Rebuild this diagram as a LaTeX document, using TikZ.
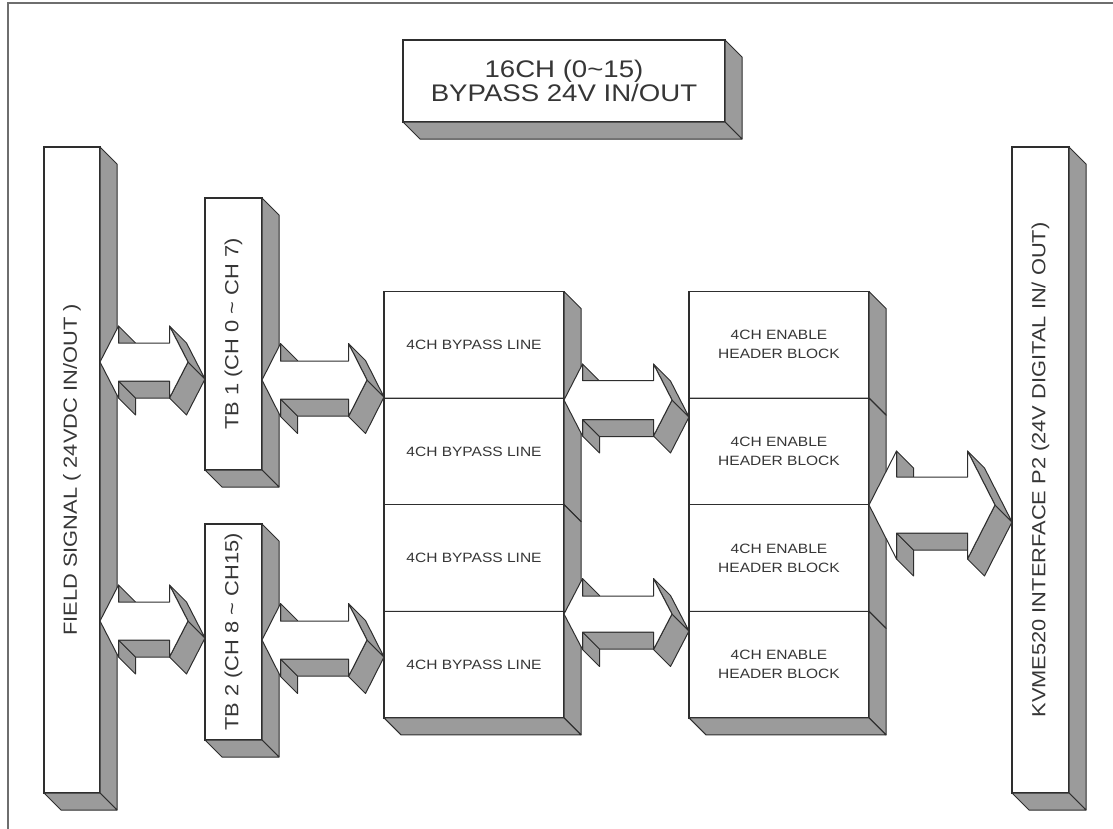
\documentclass[tikz,border=0pt]{standalone}
\usepackage{fontspec}
\setmainfont[FakeStretch=1.15]{Liberation Sans}
\usepackage{tikz}
\usetikzlibrary{calc,positioning}
\definecolor{edge}{HTML}{2E2E2E}
\definecolor{shade}{HTML}{9B9B9B}
\definecolor{framegray}{HTML}{6E6E6E}
\definecolor{ink}{HTML}{363636}

% right and bottom faces behind a block
\newcommand{\blockdepth}[1]{%
  \filldraw[sideface] (#1.north east) -- ++(17,17) -- ($(#1.south east)+(17,17)$) -- (#1.south east) -- cycle;
  \filldraw[sideface] (#1.south west) -- ++(17,17) -- ($(#1.south east)+(17,17)$) -- (#1.south east) -- cycle;}

% 3D double arrow: left node, right node, y, head half height, shaft half height, head length
\newcommand{\busarrow}[6]{%
  \coordinate (ay) at (0,#3);
  \coordinate (tl) at (#1.east |- ay);
  \coordinate (tr) at ($(#2.west |- ay)+(-17,0)$);
  \coordinate (p2) at ($(tl)+(#6,-#4)$);
  \coordinate (p3) at ($(tl)+(#6,-#5)$);
  \coordinate (p4) at ($(tr)+(-#6,-#5)$);
  \coordinate (p5) at ($(tr)+(-#6,-#4)$);
  \coordinate (p7) at ($(tr)+(-#6,#4)$);
  \coordinate (p8) at ($(tr)+(-#6,#5)$);
  \coordinate (p9) at ($(tl)+(#6,#5)$);
  \coordinate (p10) at ($(tl)+(#6,#4)$);
  \filldraw[sideface] (p9) -- (p10) -- ($(p10)+(17,17)$) -- ($(p9)+(17,17)$) -- cycle;
  \filldraw[sideface] (p8) -- (p9) -- ($(p9)+(17,17)$) -- ($(p8)+(17,17)$) -- cycle;
  \filldraw[sideface] (tr) -- (p7) -- ($(p7)+(17,17)$) -- ($(tr)+(17,17)$) -- cycle;
  \filldraw[sideface] (p5) -- (tr) -- ($(tr)+(17,17)$) -- ($(p5)+(17,17)$) -- cycle;
  \filldraw[sideface] (p2) -- (p3) -- ($(p3)+(17,17)$) -- ($(p2)+(17,17)$) -- cycle;
  \filldraw[frontface] (tl) -- (p2) -- (p3) -- (p4) -- (p5) -- (tr) -- (p7) -- (p8) -- (p9) -- (p10) -- cycle;}

\begin{document}
\begin{tikzpicture}[x=1pt,y=-1pt,
  block/.style={draw=edge,fill=white,line width=1.2pt,inner sep=0pt,outer sep=0pt,anchor=north west,align=center,text=ink},
  barbox/.style={block,minimum height=646pt,font=\fontsize{19}{22}\selectfont},
  tbbox/.style={block,minimum width=57pt,font=\fontsize{19}{22}\selectfont},
  cellbox/.style={block,minimum width=180pt,minimum height=106.6pt,font=\fontsize{13.5}{19}\selectfont},
  sideface/.style={draw=edge,fill=shade,line width=1pt,line join=round},
  frontface/.style={draw=edge,fill=white,line width=1pt,line join=round},
]
\useasboundingbox (0,0) rectangle (1113,828);
\clip (0,0) rectangle (1113,828);
\draw[framegray,line width=2pt] (8,840) -- (8,3) -- (1130,3);

\node[block,minimum width=322pt,minimum height=82pt,font=\fontsize{24}{24}\selectfont] (title) at (403,40)
  {16CH (0\textasciitilde 15)\\BYPASS 24V IN/OUT};
\blockdepth{title}

\node[barbox,minimum width=56pt] (field) at (44,147) {\rotatebox{90}{FIELD SIGNAL ( 24VDC IN/OUT )}};
\blockdepth{field}
\node[barbox,minimum width=57pt] (kvme) at (1012,147) {\rotatebox{90}{KVME520 INTERFACE P2 (24V DIGITAL IN/ OUT)}};
\blockdepth{kvme}

\node[tbbox,minimum height=272pt] (tb1) at (205,198) {\rotatebox{90}{TB 1 (CH 0 \textasciitilde{} CH 7)}};
\blockdepth{tb1}
\node[tbbox,minimum height=216pt] (tb2) at (205,524) {\rotatebox{90}{TB 2 (CH 8 \textasciitilde{} CH15)}};
\blockdepth{tb2}

\node[cellbox] (byp1) at (384,291.5) {4CH BYPASS LINE};
\blockdepth{byp1}
\node[cellbox] (enb1) at (689,291.5) {4CH ENABLE\\HEADER BLOCK};
\blockdepth{enb1}
\foreach \i [count=\j from 2] in {1,2,3} {
  \node[cellbox,below=0pt of byp\i] (byp\j) {4CH BYPASS LINE};
  \blockdepth{byp\j}
  \node[cellbox,below=0pt of enb\i] (enb\j) {4CH ENABLE\\HEADER BLOCK};
  \blockdepth{enb\j}
}

\busarrow{field}{tb1}{362}{36}{19}{18.5}
\busarrow{field}{tb2}{621}{36}{19}{18.5}
\busarrow{tb1}{byp1}{380}{36.5}{19}{18.5}
\busarrow{tb2}{byp4}{640}{36.5}{19}{18.5}
\busarrow{byp1}{enb1}{400}{36}{19.5}{18.5}
\busarrow{byp3}{enb3}{614}{35.5}{18}{18.5}
\busarrow{enb2}{kvme}{505}{54}{28}{27.5}
\end{tikzpicture}
\end{document}
